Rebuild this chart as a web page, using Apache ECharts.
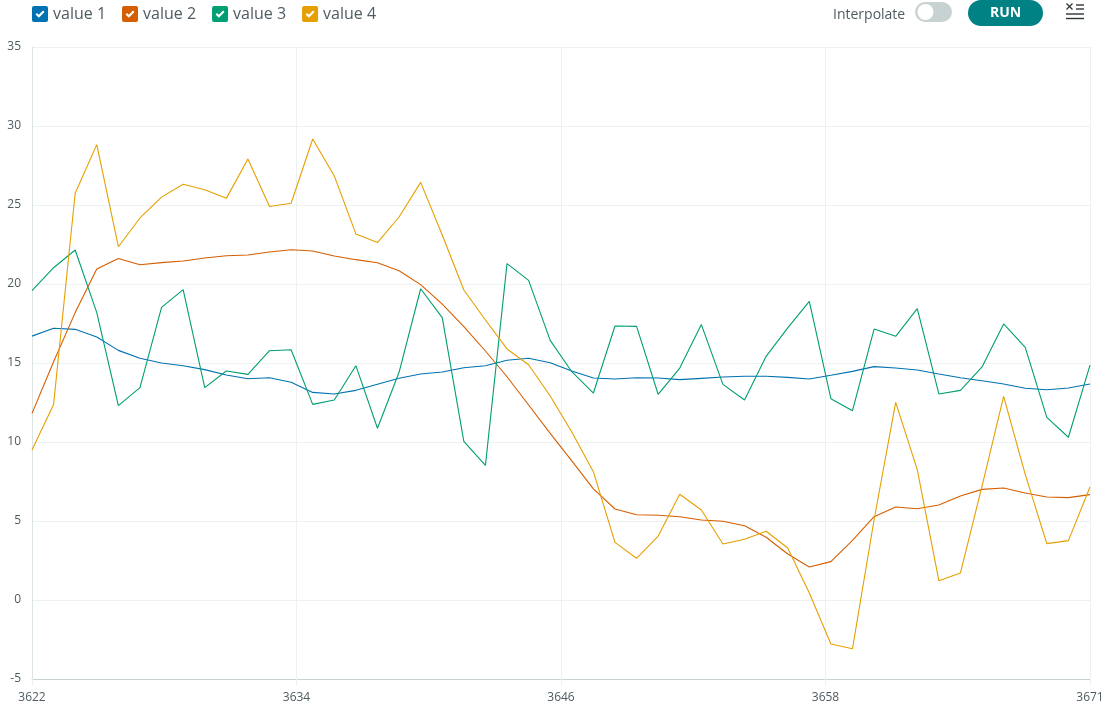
<!DOCTYPE html>
<html>
<head>
<meta charset="utf-8">
<title>Serial Plotter</title>
<script src="https://cdn.jsdelivr.net/npm/echarts@6/dist/echarts.min.js"></script>
<style>
  html, body { margin: 0; padding: 0; background: #fff; }
  #plotter { width: 1104px; height: 712px; }
</style>
</head>
<body>
<div id="plotter"></div>
<script>
var seriesNames = ['value 1', 'value 2', 'value 3', 'value 4'];
var seriesColors = ['#0072B2', '#D55E00', '#009E73', '#E69F00'];
var tickLabels = ['3622', '3634', '3646', '3658', '3671'];

var value1 = [16.7, 17.2, 17.13, 16.65, 15.8, 15.3, 15.0, 14.83, 14.58, 14.24,
  14.0, 14.07, 13.78, 13.14, 13.04, 13.27, 13.65, 14.03, 14.3, 14.43,
  14.7, 14.83, 15.17, 15.3, 15.02, 14.5, 14.05, 13.99, 14.07, 14.05,
  13.95, 14.03, 14.11, 14.16, 14.16, 14.09, 13.99, 14.22, 14.47, 14.77,
  14.68, 14.56, 14.3, 14.07, 13.88, 13.67, 13.4, 13.31, 13.42, 13.67];
var value2 = [11.81, 15.08, 18.19, 20.95, 21.62, 21.22, 21.35, 21.46, 21.65, 21.79,
  21.84, 22.03, 22.17, 22.09, 21.77, 21.54, 21.35, 20.84, 19.96, 18.73,
  17.3, 15.76, 14.13, 12.34, 10.55, 8.8, 7.03, 5.76, 5.4, 5.36,
  5.27, 5.06, 4.98, 4.7, 3.97, 2.91, 2.09, 2.43, 3.78, 5.27,
  5.89, 5.78, 6.01, 6.58, 7.0, 7.09, 6.77, 6.52, 6.48, 6.67];
var value3 = [19.58, 21.03, 22.15, 18.19, 12.3, 13.44, 18.52, 19.64, 13.44, 14.49,
  14.28, 15.78, 15.84, 12.38, 12.66, 14.83, 10.87, 14.41, 19.7, 17.87,
  10.04, 8.52, 21.29, 20.23, 16.43, 14.45, 13.1, 17.34, 17.32, 13.02,
  14.68, 17.43, 13.65, 12.66, 15.42, 17.22, 18.9, 12.74, 11.98, 17.15,
  16.69, 18.44, 13.04, 13.27, 14.75, 17.47, 15.99, 11.56, 10.3, 14.87];
var value4 = [9.49, 12.38, 25.74, 28.82, 22.36, 24.18, 25.5, 26.31, 25.97, 25.42,
  27.91, 24.9, 25.11, 29.18, 26.84, 23.17, 22.62, 24.24, 26.43, 23.1,
  19.62, 17.72, 15.89, 14.89, 12.91, 10.63, 8.12, 3.65, 2.64, 4.05,
  6.69, 5.7, 3.54, 3.84, 4.35, 3.29, 0.44, -2.78, -3.08, 5.08,
  12.51, 8.25, 1.22, 1.71, 7.2, 12.89, 7.95, 3.57, 3.76, 7.15];

var allValues = [value1, value2, value3, value4];

var textColor = '#4e5b61';
var gridColor = '#edf1f1';
var uiFont = '"Open Sans", sans-serif';
var checkboxIcon = 'path://M2 0H14A2 2 0 0 1 16 2V14A2 2 0 0 1 14 16H2A2 2 0 0 1 0 14V2A2 2 0 0 1 2 0Z' +
  'M3.5 8.5L6.8 11.8L12.5 6.1L11 4.6L6.8 8.8L5 7Z';

var chartDom = document.getElementById('plotter');
var myChart = echarts.init(chartDom);

var series = seriesNames.map(function (name, s) {
  return {
    name: name,
    type: 'line',
    showSymbol: false,
    symbol: 'none',
    animation: false,
    lineStyle: { width: 1.1, color: seriesColors[s] },
    itemStyle: { color: seriesColors[s] },
    data: allValues[s].map(function (v, i) { return [i, v]; })
  };
});

// toolbar on the right, same place as in the plotter window
var toolbar = [
  { type: 'text', x: 833, y: 15, style: { text: 'Interpolate', fill: textColor, font: '14px ' + uiFont, verticalAlign: 'middle' } },
  { type: 'rect', shape: { x: 915, y: 2, width: 37, height: 20, r: 10 }, style: { fill: '#c9d2d2' } },
  { type: 'circle', shape: { cx: 925.5, cy: 12, r: 8 }, style: { fill: '#fff' } },
  { type: 'rect', shape: { x: 968, y: 0, width: 75, height: 26, r: 13 }, style: { fill: '#008184' } },
  { type: 'text', x: 1005.5, y: 13, style: { text: 'RUN', fill: '#fff', font: 'bold 14px ' + uiFont, align: 'center', verticalAlign: 'middle' } },
  { type: 'line', shape: { x1: 1066.5, y1: 3.5, x2: 1072.5, y2: 9.5 }, style: { stroke: '#2c353a', lineWidth: 1.2 } },
  { type: 'line', shape: { x1: 1072.5, y1: 3.5, x2: 1066.5, y2: 9.5 }, style: { stroke: '#2c353a', lineWidth: 1.2 } },
  { type: 'line', shape: { x1: 1076, y1: 5, x2: 1084, y2: 5 }, style: { stroke: '#2c353a', lineWidth: 1.4 } },
  { type: 'line', shape: { x1: 1076, y1: 9, x2: 1084, y2: 9 }, style: { stroke: '#2c353a', lineWidth: 1.4 } },
  { type: 'line', shape: { x1: 1066, y1: 14, x2: 1084, y2: 14 }, style: { stroke: '#2c353a', lineWidth: 1.4 } },
  { type: 'line', shape: { x1: 1066, y1: 18.5, x2: 1084, y2: 18.5 }, style: { stroke: '#2c353a', lineWidth: 1.4 } }
];

var option = {
  animation: false,
  textStyle: { fontFamily: uiFont },
  legend: {
    left: 32,
    top: 6,
    padding: 0,
    itemWidth: 16,
    itemHeight: 16,
    itemGap: 16,
    icon: checkboxIcon,
    selectedMode: false,
    data: seriesNames.map(function (name, s) {
      return { name: name, itemStyle: { color: seriesColors[s] } };
    }),
    textStyle: { color: textColor, fontSize: 16, fontFamily: uiFont }
  },
  graphic: toolbar,
  grid: { left: 32, right: 14, top: 47, bottom: 33, containLabel: false, outerBoundsMode: 'none' },
  xAxis: {
    type: 'value',
    min: 0,
    max: 49,
    interval: 12.25,
    axisLine: { show: true, onZero: false, lineStyle: { color: '#c9d2d2', width: 1 } },
    axisTick: { show: true, length: 7, lineStyle: { color: gridColor } },
    axisLabel: {
      color: textColor,
      fontSize: 12,
      margin: 13,
      hideOverlap: false,
      showMinLabel: true,
      showMaxLabel: true,
      formatter: function (v) { return tickLabels[Math.round(v / 12.25)]; }
    },
    splitLine: { show: true, lineStyle: { color: gridColor, width: 1 } }
  },
  yAxis: {
    type: 'value',
    min: -5,
    max: 35,
    interval: 5,
    axisLine: { show: true, onZero: false, lineStyle: { color: '#dce4e4', width: 1 } },
    axisTick: { show: false },
    axisLabel: { color: textColor, fontSize: 12, margin: 11 },
    splitLine: { show: true, lineStyle: { color: gridColor, width: 1 } }
  },
  series: series
};

myChart.setOption(option);
window.addEventListener('resize', function () { myChart.resize(); });
</script>
</body>
</html>
